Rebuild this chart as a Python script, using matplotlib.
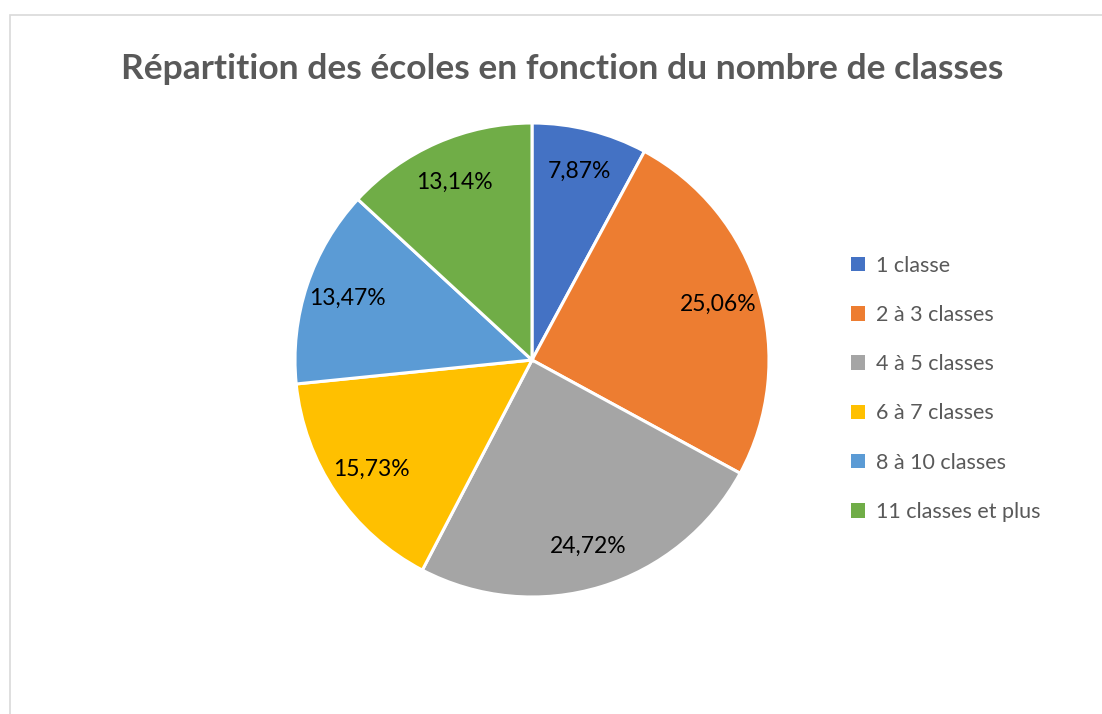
import matplotlib.pyplot as plt
from matplotlib.patches import Rectangle

# Chart data
categories = ['1 classe', '2 à 3 classes', '4 à 5 classes', '6 à 7 classes',
              '8 à 10 classes', '11 classes et plus']
shares = [7.87, 25.06, 24.72, 15.73, 13.47, 13.14]
colors = ['#4472C4', '#ED7D31', '#A5A5A5', '#FFC000', '#5B9BD5', '#70AD47']
title = 'Répartition des écoles en fonction du nombre de classes'

plt.rcParams['font.family'] = ['Lato', 'DejaVu Sans']

W, H = 1102, 714
fig = plt.figure(figsize=(W / 100, H / 100), dpi=100)
fig.patch.set_facecolor('white')

# chart border (only left and top are visible in the crop)
fig.patches.append(Rectangle((9.5 / W, -0.1), 1.2, (H - 14.5) / H + 0.1,
                             transform=fig.transFigure, fill=False,
                             edgecolor='#D9D9D9', linewidth=1.2))

# pie axes: center ~ (532, 360) px, radius ~237 px
cx, cy, r = 532, 360, 237
ax = fig.add_axes([(cx - r) / W, (H - cy - r) / H, 2 * r / W, 2 * r / H])

wedges, texts, autotexts = ax.pie(
    shares, colors=colors, startangle=90, counterclock=False,
    autopct=lambda p: f'{p:.2f}%'.replace('.', ','), pctdistance=0.82,
    wedgeprops=dict(edgecolor='white', linewidth=2.2),
    textprops=dict(fontsize=16.5, color='black'))
ax.set_xlim(-1, 1)
ax.set_ylim(-1, 1)
ax.set_aspect('equal')

fig.text(562 / W, (H - 69) / H, title, ha='center', va='center',
         fontsize=25.5, fontweight='bold', color='#595959')

leg = fig.legend(wedges, categories, loc='upper left',
                 bbox_to_anchor=(842 / W, (H - 247) / H),
                 frameon=False, fontsize=15.5, labelcolor='#595959',
                 handlelength=0.65, handleheight=0.65, handletextpad=0.55,
                 labelspacing=1.36, borderaxespad=0)
for h in leg.legend_handles:
    h.set_edgecolor('none')

fig.savefig('out.png', dpi=100, facecolor='white')
